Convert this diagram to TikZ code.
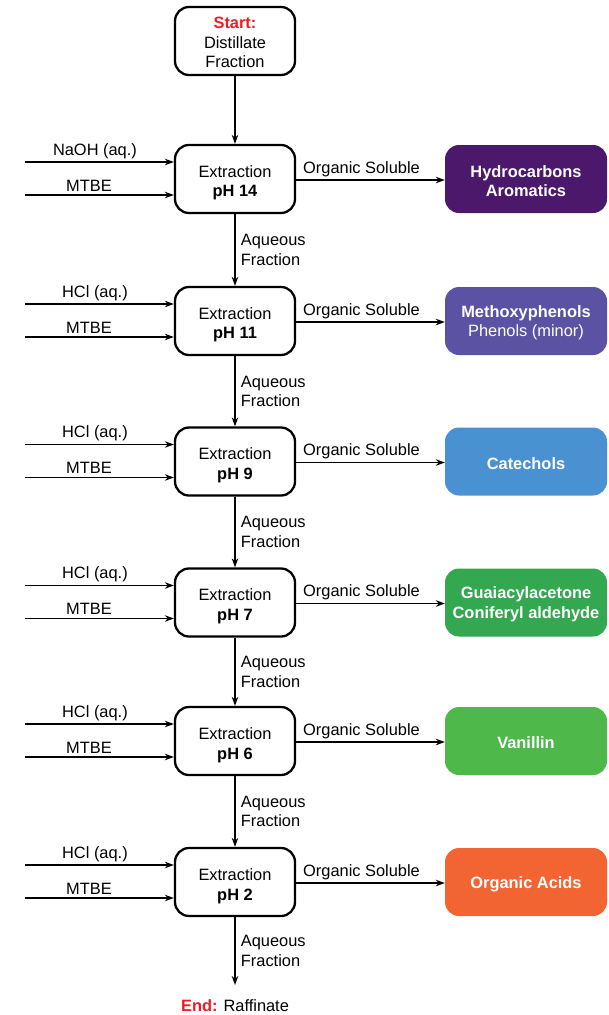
\documentclass[tikz,border=0pt]{standalone}
\usepackage{fontspec}
\setmainfont{Liberation Sans}
\usetikzlibrary{arrows.meta}
\definecolor{cpurpleA}{RGB}{75,24,108}
\definecolor{cpurpleB}{RGB}{91,82,163}
\definecolor{cblue}{RGB}{74,145,210}
\definecolor{cgreenA}{RGB}{52,168,80}
\definecolor{cgreenB}{RGB}{78,184,74}
\definecolor{corange}{RGB}{242,101,50}
\definecolor{cred}{RGB}{238,28,37}
\begin{document}
\begin{tikzpicture}[x=1pt,y=-1pt,
  font=\fontsize{16.4}{19.5}\selectfont,
  box/.style={draw, line width=2.3pt, rounded corners=14pt, minimum width=120pt, minimum height=68pt, inner sep=0pt},
  prod/.style={rounded corners=14pt, minimum width=162pt, minimum height=68pt, inner sep=0pt},
  txt/.style={align=center, inner sep=0pt},
  arr/.style={-{Stealth[length=9pt,width=6.5pt]}, line width=1.2pt},
  lbl/.style={inner sep=3pt}]
\useasboundingbox (0,0) rectangle (608,1015);

\node[box] (s) at (235,41) {};
\node[txt] (st) at (235,42.5) {\textcolor{cred}{\textbf{Start:}}\\Distillate\\Fraction};

\foreach \i/\y/\ph/\reag/\col/\txt in {
  1/179/14/NaOH (aq.)/cpurpleA/{\textbf{Hydrocarbons}\\\textbf{Aromatics}},
  2/321/11/HCl (aq.)/cpurpleB/{\textbf{Methoxyphenols}\\Phenols (minor)},
  3/461.5/9/HCl (aq.)/cblue/{\textbf{Catechols}},
  4/602.5/7/HCl (aq.)/cgreenA/{\textbf{Guaiacylacetone}\\\textbf{Coniferyl aldehyde}},
  5/741/6/HCl (aq.)/cgreenB/{\textbf{Vanillin}},
  6/882/2/HCl (aq.)/corange/{\textbf{Organic Acids}}}{
  \node[box] (e\i) at (235,\y) {};
  \node[txt] (et\i) at (235,\y+4) {Extraction\\\textbf{pH \ph}};
  \node[prod, fill=\col] (p\i) at (526,\y) {};
  \node[txt, text=white] (pt\i) at (526,\y+2) {\txt};
  \coordinate (ra\i) at (25,\y-17);
  \coordinate (rb\i) at (25,\y+16);
  \draw[arr] (ra\i) -- node[lbl, above, pos=0.47] {\reag} (e\i.west |- ra\i);
  \draw[arr] (rb\i) -- node[lbl, above, pos=0.43] {MTBE} (e\i.west |- rb\i);
  \draw[arr] (e\i.east |- 0,\y+1) -- node[lbl, above, pos=0.44] {Organic Soluble} (p\i.west |- 0,\y+1);
}

\draw[arr] (s) -- (e1);
\foreach \i/\j in {1/2,2/3,3/4,4/5,5/6}{
  \draw[arr] (e\i) -- node[right, align=left, xshift=2pt] {Aqueous\\Fraction} (e\j);
}
\coordinate (endpt) at (235,985);
\draw[arr] (e6) -- node[right, align=left, xshift=2pt] {Aqueous\\Fraction} (endpt);
\node[inner sep=0pt] (end) at (235,1006) {\textcolor{cred}{\textbf{End:}} Raffinate};
\end{tikzpicture}
\end{document}
